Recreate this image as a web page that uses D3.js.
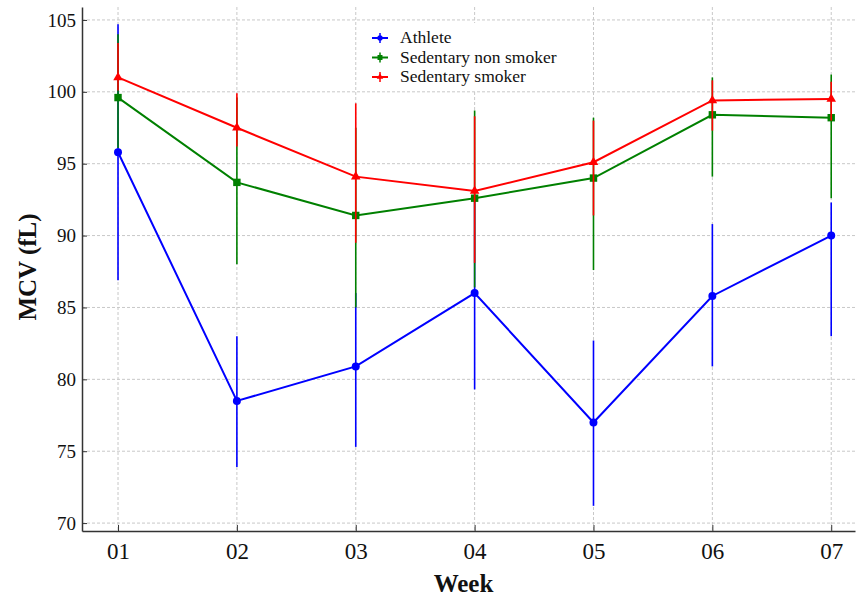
<!DOCTYPE html>
<html>
<head>
<meta charset="utf-8">
<script src="https://cdn.jsdelivr.net/npm/d3@7"></script>
<style>
  body { margin: 0; background: #fff; }
  #chart svg { display: block; }
  .tick text { font-family: "Liberation Serif", "DejaVu Serif", serif; fill: #111; }
</style>
</head>
<body>
<div id="chart"></div>
<script>
// 数据
var weeks = ["01", "02", "03", "04", "05", "06", "07"];
var yTicks = [70, 75, 80, 85, 90, 95, 100, 105];

var athlete = [95.8, 78.5, 80.9, 86.0, 77.0, 85.8, 90.0];
var athleteLow = [86.9, 73.9, 75.3, 79.3, 71.2, 80.9, 83.0];
var athleteHigh = [104.7, 83.0, 86.0, 92.8, 82.7, 90.8, 92.3];

var nonSmoker = [99.6, 93.7, 91.4, 92.6, 94.0, 98.4, 98.2];
var nonSmokerLow = [96.1, 88.0, 85.0, 86.4, 87.6, 94.1, 92.6];
var nonSmokerHigh = [104.0, 99.6, 97.5, 98.7, 98.2, 101.0, 101.2];

var smoker = [101.0, 97.5, 94.1, 93.1, 95.1, 99.4, 99.5];
var smokerLow = [100.1, 96.2, 89.5, 88.1, 91.4, 97.3, 98.0];
var smokerHigh = [103.4, 99.9, 99.2, 98.3, 98.0, 100.8, 100.7];

var series = [
    { name: "Athlete", color: "#0000ff", symbol: d3.symbolCircle, size: 50, mean: athlete, low: athleteLow, high: athleteHigh },
    { name: "Sedentary non smoker", color: "#008000", symbol: d3.symbolSquare, size: 55, mean: nonSmoker, low: nonSmokerLow, high: nonSmokerHigh },
    { name: "Sedentary smoker", color: "#ff0000", symbol: d3.symbolTriangle, size: 40, mean: smoker, low: smokerLow, high: smokerHigh }
];

var width = 856, height = 599;
var pLeft = 82, pRight = 855, pTop = 7, pBottom = 531;

var svg = d3.select("#chart").append("svg")
    .attr("width", width)
    .attr("height", height);

var x = d3.scaleLinear().domain([-0.303, 6.2]).range([pLeft, pRight]);
var y = d3.scaleLinear().domain([69.45, 105.9]).range([pBottom, pTop]);

// 网格线
var grid = svg.append("g").attr("stroke", "#c8c8c8").attr("stroke-width", 1).attr("stroke-dasharray", "3,2");
grid.selectAll("line.h").data(yTicks).enter().append("line")
    .attr("x1", pLeft).attr("x2", pRight)
    .attr("y1", d => y(d)).attr("y2", d => y(d));
grid.selectAll("line.v").data(weeks).enter().append("line")
    .attr("x1", (d, i) => x(i)).attr("x2", (d, i) => x(i))
    .attr("y1", pTop).attr("y2", pBottom);

// 图例背景 (盖住网格)
svg.append("rect").attr("x", 360).attr("y", 23).attr("width", 215).attr("height", 67).attr("fill", "#fff");

// 坐标轴
var xAxis = svg.append("g")
    .attr("transform", "translate(0," + pBottom + ")")
    .call(d3.axisBottom(x).tickValues(d3.range(weeks.length)).tickFormat(i => weeks[i])
        .tickSizeInner(-6).tickSizeOuter(0).tickPadding(12));
xAxis.select(".domain").attr("stroke", "#333").attr("stroke-width", 1.5);
xAxis.selectAll(".tick line").attr("stroke", "#333");
xAxis.selectAll(".tick text").attr("font-size", 23);

var yAxis = svg.append("g")
    .attr("transform", "translate(" + pLeft + ",0)")
    .call(d3.axisLeft(y).tickValues(yTicks).tickSizeInner(-5).tickSizeOuter(0).tickPadding(6));
yAxis.select(".domain").attr("stroke", "#333").attr("stroke-width", 1.5);
yAxis.selectAll(".tick line").attr("stroke", "#333");
yAxis.selectAll(".tick text").attr("font-size", 19);

// 轴标题
svg.append("text")
    .attr("x", (pLeft + pRight) / 2 - 5).attr("y", 592)
    .attr("text-anchor", "middle")
    .attr("font-family", "Liberation Serif, serif").attr("font-weight", "bold").attr("font-size", 25)
    .attr("fill", "#111")
    .text("Week");
svg.append("text")
    .attr("transform", "translate(36," + ((pTop + pBottom) / 2 - 2) + ") rotate(-90)")
    .attr("text-anchor", "middle")
    .attr("font-family", "Liberation Serif, serif").attr("font-weight", "bold").attr("font-size", 25)
    .attr("fill", "#111")
    .text("MCV (fL)");

// 系列
var line = d3.line().x((d, i) => x(i)).y(d => y(d));

series.forEach(function (s) {
    var g = svg.append("g");
    g.selectAll("line.err").data(s.mean).enter().append("line")
        .attr("x1", (d, i) => x(i)).attr("x2", (d, i) => x(i))
        .attr("y1", (d, i) => y(s.low[i])).attr("y2", (d, i) => y(s.high[i]))
        .attr("stroke", s.color).attr("stroke-width", 1.6);
    g.append("path")
        .datum(s.mean)
        .attr("fill", "none")
        .attr("stroke", s.color)
        .attr("stroke-width", 2)
        .attr("d", line);
    g.selectAll("path.mk").data(s.mean).enter().append("path")
        .attr("transform", (d, i) => "translate(" + x(i) + "," + y(d) + ")")
        .attr("d", d3.symbol().type(s.symbol).size(s.size))
        .attr("fill", s.color);
});

// 图例
var legend = svg.append("g").attr("transform", "translate(372,38)");
series.forEach(function (s, i) {
    var row = legend.append("g").attr("transform", "translate(0," + i * 19.5 + ")");
    row.append("line").attr("x1", 0).attr("x2", 16).attr("y1", 0).attr("y2", 0)
        .attr("stroke", s.color).attr("stroke-width", 2);
    row.append("line").attr("x1", 8).attr("x2", 8).attr("y1", -5).attr("y2", 5)
        .attr("stroke", s.color).attr("stroke-width", 1.5);
    row.append("path").attr("transform", "translate(8,0)")
        .attr("d", d3.symbol().type(s.symbol).size(s.size * 0.45))
        .attr("fill", s.color);
    row.append("text").attr("x", 28).attr("y", 5)
        .attr("font-family", "Liberation Serif, serif").attr("font-size", 17.5)
        .attr("fill", "#111")
        .text(s.name);
});
</script>
</body>
</html>
